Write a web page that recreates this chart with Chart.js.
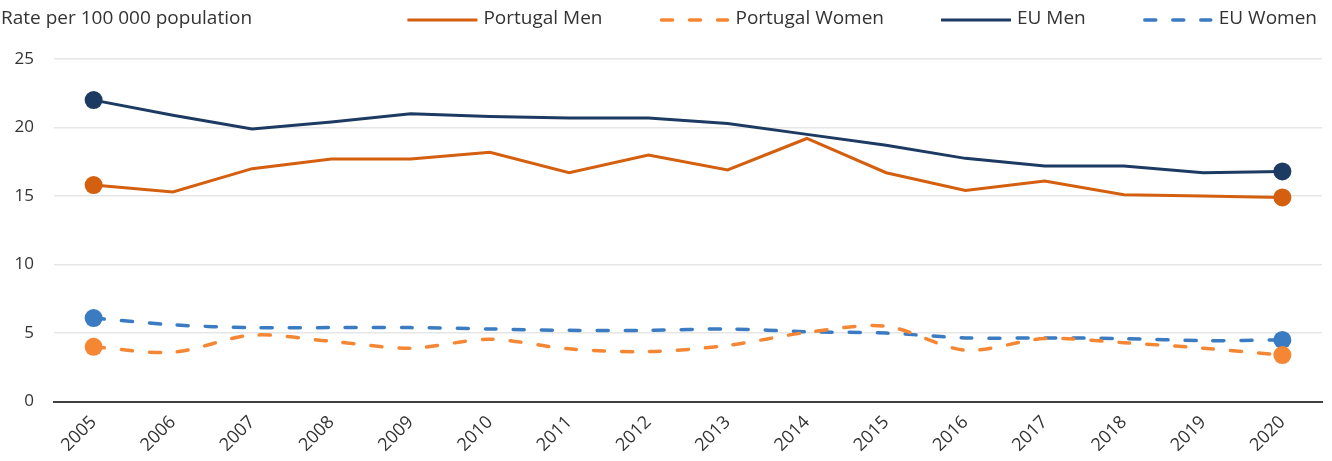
<!DOCTYPE html>
<html lang="en">
<head>
<meta charset="utf-8">
<title>Rate per 100 000 population</title>
<script src="https://cdn.jsdelivr.net/npm/chart.js@4/dist/chart.umd.min.js"></script>
<style>
  html, body { margin: 0; padding: 0; background: #fff; }
  #caixa { position: relative; width: 1332px; height: 461px; }
</style>
</head>
<body>
<div id="caixa"><canvas id="grafico"></canvas></div>
<script>
// Dados
const anos = ['2005', '2006', '2007', '2008', '2009', '2010', '2011', '2012',
              '2013', '2014', '2015', '2016', '2017', '2018', '2019', '2020'];
const portugalHomens = [15.8, 15.3, 17.0, 17.7, 17.7, 18.2, 16.7, 18.0, 16.9, 19.2, 16.7, 15.4, 16.1, 15.1, 15.0, 14.9];
const portugalMulheres = [4.0, 3.6, 4.85, 4.4, 3.9, 4.55, 3.85, 3.65, 4.1, 5.05, 5.5, 3.75, 4.6, 4.3, 3.9, 3.4];
const ueHomens = [22.0, 20.9, 19.9, 20.4, 21.0, 20.8, 20.7, 20.7, 20.3, 19.5, 18.7, 17.75, 17.2, 17.2, 16.7, 16.8];
const ueMulheres = [6.1, 5.6, 5.4, 5.4, 5.4, 5.3, 5.2, 5.2, 5.3, 5.1, 5.0, 4.65, 4.65, 4.6, 4.45, 4.5];
const ticksY = [0, 5, 10, 15, 20, 25];
const tituloEixo = 'Rate per 100 000 population';

const fonte = '"Open Sans", "Noto Sans", sans-serif';
const corTexto = '#333333';

// Marcador só no primeiro e no último ano
const raioPonto = (ctx) => (ctx.dataIndex === 0 || ctx.dataIndex === anos.length - 1) ? 9 : 0;

function serie(label, dados, cor, tracejado) {
    return {
        label: label,
        data: dados,
        borderColor: cor,
        backgroundColor: cor,
        pointBackgroundColor: cor,
        pointBorderWidth: 0,
        pointRadius: raioPonto,
        pointHoverRadius: raioPonto,
        borderWidth: tracejado ? 3.5 : 3,
        borderDash: tracejado ? [11, 17] : [],
        borderCapStyle: tracejado ? 'round' : 'butt',
        tension: tracejado ? 0.3 : 0
    };
}

// Título do eixo e legenda desenhados na mesma linha, no topo
const legendaTopo = {
    id: 'legendaTopo',
    afterDraw(chart) {
        const ctx = chart.ctx;
        const y = 19;
        ctx.save();
        ctx.font = '19px ' + fonte;
        ctx.textBaseline = 'middle';
        ctx.fillStyle = corTexto;
        ctx.textAlign = 'left';
        ctx.fillText(tituloEixo, 1, y);

        let x = chart.width - 15;
        const ds = chart.data.datasets;
        for (let i = ds.length - 1; i >= 0; i--) {
            const d = ds[i];
            const largura = ctx.measureText(d.label).width;
            x -= largura;
            ctx.fillStyle = corTexto;
            ctx.fillText(d.label, x, y);
            x -= 6;
            ctx.beginPath();
            ctx.setLineDash(d.borderDash);
            ctx.lineCap = d.borderCapStyle;
            ctx.lineWidth = d.borderWidth;
            ctx.strokeStyle = d.borderColor;
            const ini = d.borderDash.length ? x - 68 : x - 70;
            const fim = d.borderDash.length ? x - 2 : x;
            ctx.moveTo(ini, y + 1);
            ctx.lineTo(fim, y + 1);
            ctx.stroke();
            x -= 70 + 57;
        }
        ctx.restore();
    }
};

const grafico = new Chart(document.getElementById('grafico'), {
    type: 'line',
    data: {
        labels: anos,
        datasets: [
            serie('Portugal Men', portugalHomens, '#d35f0f', false),
            serie('Portugal Women', portugalMulheres, '#f58634', true),
            serie('EU Men', ueHomens, '#1d3b62', false),
            serie('EU Women', ueMulheres, '#3a7bc1', true)
        ]
    },
    options: {
        responsive: true,
        maintainAspectRatio: false,
        animation: false,
        layout: { padding: { top: 59, right: 10, left: 15, bottom: 3 } },
        plugins: {
            legend: { display: false },
            title: { display: false },
            tooltip: { enabled: false }
        },
        scales: {
            x: {
                offset: true,
                grid: { display: false },
                border: { display: true, color: '#404040', width: 2 },
                afterFit: (eixo) => { eixo.paddingLeft = 0; eixo.paddingRight = 0; },
                ticks: {
                    color: corTexto,
                    font: { family: fonte, size: 18 },
                    maxRotation: 45,
                    minRotation: 45,
                    padding: 2
                }
            },
            y: {
                min: 0,
                max: 25,
                afterBuildTicks: (eixo) => { eixo.ticks = ticksY.map(v => ({ value: v })); },
                afterFit: (eixo) => { eixo.width = 39; },
                grid: { color: '#e6e6e6', lineWidth: 1.5, drawTicks: false },
                border: { display: false },
                ticks: {
                    color: corTexto,
                    font: { family: fonte, size: 17 },
                    padding: 20
                }
            }
        }
    },
    plugins: [legendaTopo]
});
</script>
</body>
</html>
